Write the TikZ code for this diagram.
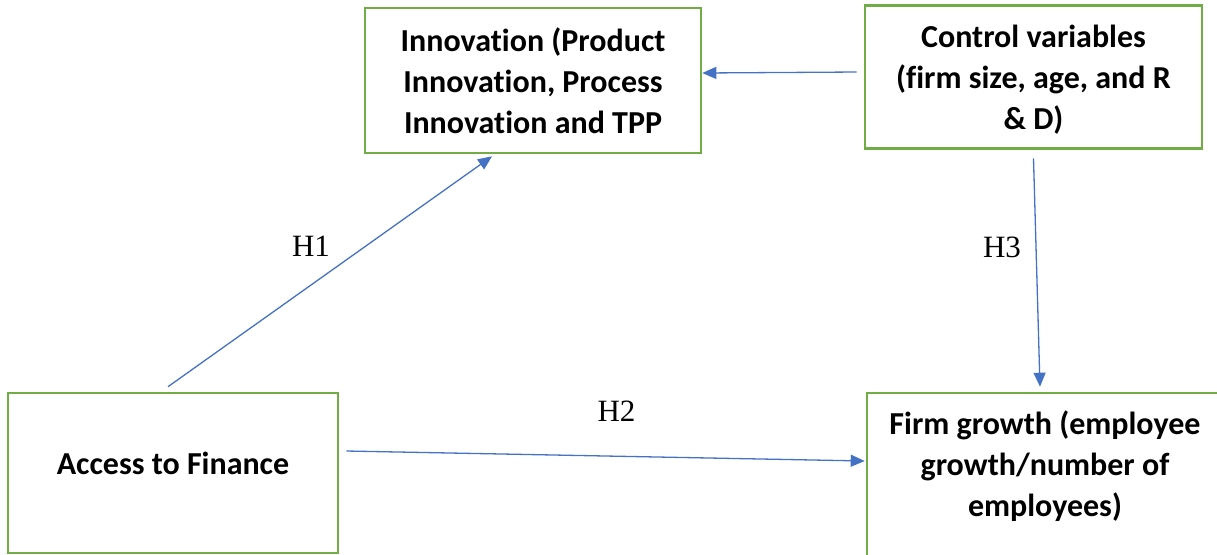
\documentclass[tikz,border=0pt]{standalone}
\usepackage{fontspec}
\setmainfont{Liberation Serif}
\newfontfamily\boxfont{Carlito}[Ligatures={CommonOff,RequiredOff,ContextualOff},
  RawFeature={-liga;-clig;-calt;-dlig;-rlig;-ccmp}]
\usetikzlibrary{arrows.meta}
\definecolor{framegreen}{HTML}{70AD47}
\definecolor{linkblue}{HTML}{4472C4}

\begin{document}
\begin{tikzpicture}[x=0.5pt, y=-0.5pt,
  boxtext/.style = {align=center, inner sep=0pt,
    font=\boxfont\bfseries\fontsize{16}{20.5}\selectfont},
  box/.style = {boxtext, draw=framegreen, line width=1.3pt},
  link/.style = {draw=linkblue, line width=0.65pt,
    -{Triangle[length=7pt,width=6pt]}},
  hyp/.style = {inner sep=0pt, font=\fontsize{15.5}{18}\selectfont}]
  \useasboundingbox (0,0) rectangle (1217,554);

  % the four blocks
  \node[box, minimum width=168pt, minimum height=72.5pt] (innov) at (533,80.5)
    {Innovation (Product\\ Innovation, Process\\ Innovation and TPP};
  \node[box, minimum width=168.5pt, minimum height=71.5pt] (ctrl) at (1033.5,77) {};
  \node[boxtext] (ctrl-text) at (1033.5,80)
    {Control variables\\ (firm size, age, and R\\ \& D)};
  \node[box, minimum width=165pt, minimum height=80pt] (access) at (173,473) {};
  \node[boxtext] (access-text) at (173,463) {Access to Finance};
  \node[box, minimum width=178pt, minimum height=100pt] (growth) at (1045,493) {};
  \node[boxtext] (growth-text) at (1045,466)
    {Firm growth (employee\\ growth/number of\\ employees)};

  % hypotheses
  \draw[link] ([shift={(-5,-5)}]access.north) -- ([shift={(-41,2)}]innov.south);
  \draw[link] ([shift={(7,-22)}]access.east) -- ([shift={(-1,-32)}]growth.west);
  \draw[link] ([shift={(0,8.5)}]ctrl.south) -- ([shift={(-5,-5)}]growth.north);
  \draw[link] ([shift={(-7,-5)}]ctrl.west) -- ([shift={(0,-7.5)}]innov.east);

  \node[hyp] (h1) at (311,246.5) {H1};
  \node[hyp] (h2) at (616.5,411) {H2};
  \node[hyp] (h3) at (1002,247) {H3};
\end{tikzpicture}
\end{document}
